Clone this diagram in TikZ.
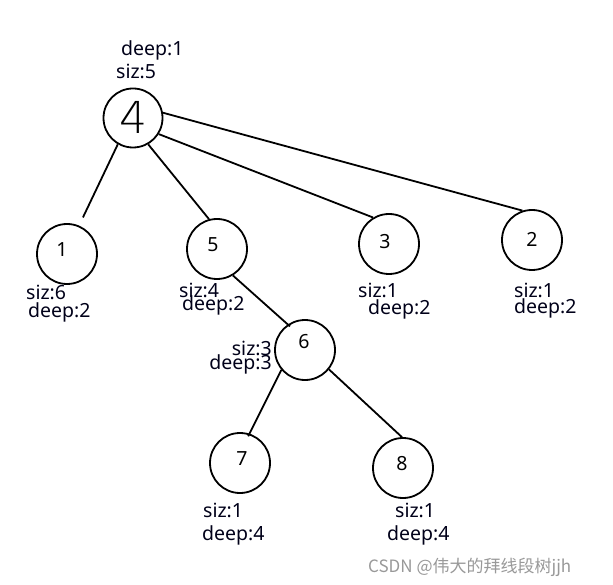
\documentclass[tikz,border=0pt]{standalone}
\usepackage{fontspec}
\setmainfont{Noto Sans}
\newfontfamily\cjk{Noto Sans CJK SC}
\newfontfamily\thinf{DejaVu Sans ExtraLight}
\begin{document}
\begin{tikzpicture}[x=1pt,y=-1pt,
  tn/.style={circle,draw=black,line width=1.8pt,minimum size=60pt,inner sep=0pt},
  num/.style={font=\fontsize{19.5}{20}\selectfont,inner sep=0pt},
  edge/.style={line width=1.8pt},
  lab/.style={anchor=base west,inner sep=0pt,font=\fontsize{19.5}{20}\selectfont,text=black!90!blue}]
\useasboundingbox (0,0) rectangle (613,585);
\fill[white] (0,0) rectangle (613,585);
% tree nodes
\node[tn,minimum size=59pt,label={[num,font=\thinf\fontsize{44}{44}\selectfont,yshift=1pt]center:4}] (n4) at (133,118) {};
\node[tn,label={[num,xshift=-5pt,yshift=4pt]center:1}] (n1) at (67,254) {};
\node[tn,label={[num,xshift=-4pt,yshift=4pt]center:5}] (n5) at (217,249) {};
\node[tn,label={[num,xshift=-4pt,yshift=2pt]center:3}] (n3) at (389,244) {};
\node[tn,label={[num,yshift=1pt]center:2}] (n2) at (532,240) {};
\node[tn,label={[num,xshift=-1pt,yshift=8pt]center:6}] (n6) at (305,350) {};
\node[tn,label={[num,xshift=2pt,yshift=4pt]center:7}] (n7) at (240,463) {};
\node[tn,label={[num,xshift=-1pt,yshift=4pt]center:8}] (n8) at (403,468) {};
% connectors
\draw[edge,shorten >=9pt] (n4.-120) -- (n1.67);
\draw[edge] (n4.-60) -- (n5.105);
\draw[edge] (n4.-32) -- (n3.121);
\draw[edge] (n4.10) -- (n2.108);
\draw[edge,shorten >=-3pt] (n5.-59) -- (n6.124);
\draw[edge,shorten >=-3pt] (n6.-140) -- (n7.72);
\draw[edge] (n6.-39) -- (n8.92);
% labels
\node[lab] (l4d) at (121,56) {deep:1};
\node[lab] (l4s) at (116,79) {siz:5};
\node[lab] (l1s) at (26,300) {siz:6};
\node[lab] (l1d) at (28,318) {deep:2};
\node[lab] (l5s) at (179,298) {siz:4};
\node[lab] (l5d) at (182,311) {deep:2};
\node[lab,anchor=base east] (l6s) at (272,355) {siz:3};
\node[lab,anchor=base east] (l6d) at (272,369) {deep:3};
\node[lab] (l3s) at (358,298) {siz:1};
\node[lab] (l3d) at (368,315) {deep:2};
\node[lab] (l2s) at (514,298) {siz:1};
\node[lab] (l2d) at (514,313) {deep:2};
\node[lab] (l7s) at (203,517) {siz:1};
\node[lab] (l7d) at (202,540) {deep:4};
\node[lab] (l8s) at (395,517) {siz:1};
\node[lab] (l8d) at (387,540) {deep:4};
% watermark
\node[anchor=base west,inner sep=0pt,text=black!40,font=\cjk\fontsize{17}{17}\selectfont] (wm) at (368,572) {CSDN @伟大的拜线段树jjh};
\end{tikzpicture}
\end{document}
